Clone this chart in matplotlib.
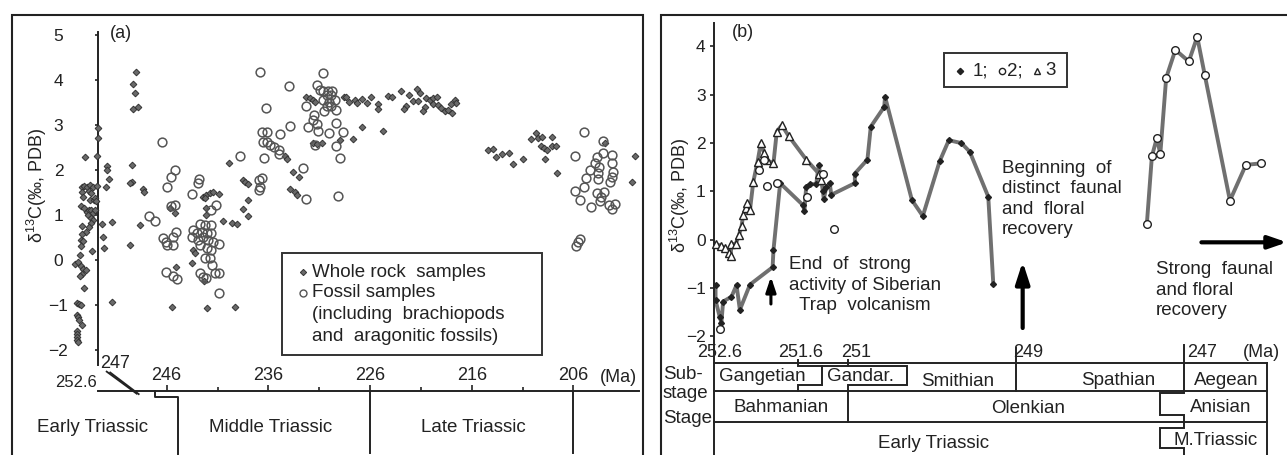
import matplotlib
matplotlib.use('Agg')
import matplotlib.pyplot as plt
from matplotlib.patches import Rectangle

plt.rcParams['font.family'] = ['Liberation Sans', 'DejaVu Sans']
plt.rcParams['mathtext.default'] = 'regular'

INK = '#222222'
GRAY = '#707070'

# ---------------- Panel (a) data: age (Ma) and d13C ----------------
rock_age = [254.0, 254.35, 254.1, 253.85, 253.55, 253.2, 254.3, 253.6, 253.4, 254.2, 253.5, 253.15,
            254.45, 254.1, 253.87, 253.6, 253.4, 253.2, 253.05, 253.7, 253.45, 253.25, 253.4, 254.35,
            253.6, 253.9, 254.35, 254.45, 254.2, 253.3, 254.45, 254.55, 255.0, 254.7, 254.45, 254.2,
            253.9, 254.35, 254.5, 254.1, 254.85, 254.6, 254.45, 254.85, 254.7, 254.6, 254.35, 254.85,
            254.8, 254.85, 254.8, 254.7,
            252.8, 252.8, 252.85, 252.9, 253.0, 252.95,
            251.9, 251.85, 251.65, 251.97, 252.4, 251.4, 252.25, 252.2, 251.4, 249.6,
            249.0, 249.3, 249.1, 249.35, 248.85, 249.45, 249.45, 249.6, 248.3, 248.2, 248.6,
            245.7, 245.2, 245.1, 245.5, 242.4, 242.1, 241.75, 241.4, 240.9, 242.2, 242.1, 242.1,
            243.4, 243.2, 243.5, 242.3, 242.05, 240.5, 239.6, 239.1, 239.3, 239.85, 238.5, 238.3,
            238.0, 238.0, 238.5, 238.0,
            234.4, 234.2, 233.55, 233.0, 233.9, 233.4, 233.2, 232.3, 231.9, 231.6, 231.4, 231.65,
            231.25, 230.7,
            229.0, 227.7, 226.8, 224.75, 228.6, 228.4, 228.05, 227.5, 227.3, 226.8, 226.3, 225.95,
            225.2, 225.2, 224.2, 223.8, 223.0, 222.15, 221.75, 221.4, 221.1, 221.25, 222.45, 222.65,
            220.5, 220.1, 219.8, 219.45, 220.6, 220.8, 219.8, 219.3, 219.05, 218.6, 218.3, 217.9,
            217.65, 217.55, 218.0,
            214.4, 213.9, 213.6, 213.05, 212.3, 211.9, 211.0, 210.2, 209.7, 209.45, 209.1, 208.15,
            209.2, 208.9, 208.6, 208.15, 207.7, 208.8, 207.65, 202.9, 199.95, 200.2]
rock_d13c = [2.28, 1.63, 1.65, 1.63, 1.67, 1.63, 1.52, 1.54, 1.49, 1.41, 1.33, 1.33,
             1.19, 1.15, 1.07, 1.11, 1.10, 1.05, 1.11, 0.99, 0.94, 0.88, 0.82, 0.75,
             0.73, 0.63, 0.58, 0.44, 0.43, 0.21, 0.30, 0.10, -0.08, -0.05, -0.13, -0.20,
             -0.23, -0.30, -0.35, -0.63, -0.96, -0.98, -1.00, -1.22, -1.27, -1.33, -1.44, -1.57,
             -1.64, -1.71, -1.78, -1.82,
             2.93, 2.72, 2.30, 1.65, 1.38, 1.30,
             2.09, 2.00, 1.81, 1.63, 0.81, 0.85, 0.52, 0.26, -0.93, 0.33,
             4.18, 3.92, 3.70, 3.35, 3.41, 2.10, 1.74, 1.70, 1.57, 1.50, 0.78,
             1.16, 1.05, -0.15, -1.04, 1.41, 1.44, 1.48, 1.50, 1.47, 1.38, 1.15, 1.00,
             0.22, 0.16, -0.06, -0.46, -1.07, 0.87, 0.83, 0.81, -1.04, 2.15, 1.78, 1.73,
             1.69, 1.33, 1.13, 0.98,
             2.30, 2.24, 1.96, 1.85, 1.57, 1.50, 1.44, 3.63, 3.59, 3.56, 3.52, 2.59,
             2.58, 2.61,
             2.67, 2.68, 2.95, 2.87, 3.62, 3.63, 3.50, 3.56, 3.48, 3.57, 3.48, 3.62,
             3.47, 3.35, 3.64, 3.62, 3.76, 3.67, 3.54, 3.79, 3.72, 3.54, 3.42, 3.35,
             3.59, 3.56, 3.59, 3.63, 3.39, 3.30, 3.47, 3.44, 3.37, 3.30, 3.33, 3.27,
             3.56, 3.48, 3.47,
             2.44, 2.46, 2.28, 2.36, 2.37, 2.13, 2.24, 2.68, 2.83, 2.70, 2.73, 2.73,
             2.53, 2.48, 2.44, 2.53, 2.53, 2.24, 1.94, 2.59, 2.30, 1.74]

fossil_age = [247.7, 247.15, 246.5, 246.0, 245.6, 245.2, 245.2, 245.6, 246.35, 246.1, 246.0, 245.35,
              245.1, 245.35, 246.1, 245.35, 245.0, 240.9,
              243.55, 242.8, 242.9, 241.15, 241.65, 242.7, 242.2, 241.6, 243.4, 243.05, 242.55, 242.05,
              241.6, 243.55, 242.9, 242.4, 241.9, 241.4, 240.9, 242.7, 242.05, 241.6, 242.25, 241.7,
              241.5, 241.25, 240.9, 242.7, 242.4, 242.1,
              238.8, 236.9, 236.9, 236.8, 233.95, 236.25, 236.6, 236.1, 234.85, 236.5, 236.1, 235.8,
              235.45, 235.0, 235.0, 233.9, 236.4, 236.65, 236.8, 232.6, 232.3,
              230.65, 231.2, 230.9, 230.6, 230.1, 229.7, 230.25, 229.8, 230.6, 230.0, 229.45, 230.25,
              229.8, 229.3, 232.3, 230.5, 231.5, 231.6, 232.1, 231.25, 231.1, 230.0, 229.35, 228.7,
              229.3, 229.0, 229.2, 231.4,
              205.0, 205.85, 203.1, 203.1, 202.25, 203.7, 202.25, 203.9, 204.4, 203.5, 203.55, 202.1,
              202.25, 202.4, 204.8, 203.55, 205.0, 205.85, 205.4, 203.7, 203.0, 203.3, 203.4, 204.3,
              202.5, 201.9, 202.25, 205.4, 205.7, 205.55]
fossil_d13c = [0.98, 0.87, 2.62, 1.63, 1.84, 2.01, 1.22, 1.20, 0.48, 0.41, 0.33, 0.52,
               0.63, 0.33, -0.26, -0.36, -0.43, -0.73,
               1.47, 1.79, 1.70, 1.22, 1.11, 0.81, 0.78, 0.78, 0.67, 0.59, 0.63, 0.59,
               0.61, 0.52, 0.44, 0.52, 0.44, 0.41, 0.36, 0.33, 0.26, 0.22, 0.04, 0.04,
               -0.11, -0.28, -0.28, -0.28, -0.37, -0.40,
               2.31, 1.78, 1.56, 4.17, 3.87, 3.38, 2.85, 2.85, 2.81, 2.63, 2.63, 2.56,
               2.52, 2.44, 2.36, 2.98, 2.26, 1.82, 1.63, 2.04, 1.35,
               4.16, 3.89, 3.78, 3.76, 3.76, 3.76, 3.67, 3.67, 3.56, 3.52, 3.56, 3.42,
               3.42, 3.33, 3.42, 3.32, 3.22, 3.10, 2.96, 3.02, 2.87, 2.83, 3.04, 2.85,
               2.53, 2.26, 1.42, 2.56,
               2.85, 2.31, 2.65, 2.38, 2.33, 2.28, 2.15, 2.15, 2.01, 2.07, 1.94, 1.96,
               1.85, 1.74, 1.82, 1.79, 1.62, 1.54, 1.33, 1.48, 1.50, 1.41, 1.30, 1.18,
               1.22, 1.24, 1.13, 0.46, 0.31, 0.41]

a_xticks = [246, 236, 226, 216, 206]
a_xminor = [241, 231, 221, 211]
a_yticks = [-2, -1, 0, 1, 2, 3, 4, 5]
a_periods = ['Early Triassic', 'Middle Triassic', 'Late Triassic']

# ---------------- Panel (b) data ----------------
s1_age = [252.58, 252.58, 252.53, 252.51, 252.49, 252.39, 252.33, 252.29, 252.17, 251.90, 251.89,
          251.81, 251.54, 251.52, 251.50, 251.45, 251.38, 251.35, 251.30, 251.29, 251.26, 251.22,
          251.20, 250.92, 250.92, 250.77, 250.73, 250.57, 250.56, 250.24, 250.11, 249.91, 249.80,
          249.65, 249.55, 249.33, 249.27]
s1_d13c = [-0.94, -1.25, -1.60, -1.72, -1.28, -1.18, -0.94, -1.45, -0.93, -0.57, -0.22,
           1.17, 0.72, 0.60, 1.10, 1.15, 1.15, 1.55, 1.00, 0.84, 1.09, 1.17,
           0.93, 1.17, 1.37, 1.66, 2.34, 2.75, 2.96, 0.82, 0.49, 1.62, 2.06,
           2.00, 1.82, 0.89, -0.92]

s2_scatter_age = [252.53, 252.06, 252.0, 251.97, 251.85, 251.49, 251.30, 251.17]
s2_scatter_d13c = [-1.85, 1.44, 1.65, 1.11, 1.18, 0.88, 1.36, 0.23]
s2_line_age = [247.44, 247.38, 247.32, 247.28, 247.21, 247.10, 246.94, 246.84, 246.75, 246.45,
               246.26, 246.08]
s2_line_d13c = [0.33, 1.73, 2.11, 1.77, 3.35, 3.93, 3.69, 4.20, 3.41, 0.81, 1.55, 1.58]

s3_age = [252.58, 252.52, 252.47, 252.42, 252.40, 252.39, 252.34, 252.30, 252.27, 252.25, 252.22,
          252.20, 252.17, 252.13, 252.08, 252.04, 252.00, 251.97, 251.89, 251.85, 251.79, 251.71,
          251.50, 251.35, 251.32]
s3_d13c = [-0.09, -0.12, -0.18, -0.28, -0.34, -0.09, -0.09, 0.10, 0.28, 0.51, 0.65,
           0.75, 0.61, 1.20, 1.61, 2.00, 1.80, 1.65, 1.58, 2.24, 2.37, 2.15,
           1.66, 1.37, 1.24]

b_yticks = [-2, -1, 0, 1, 2, 3, 4]
b_xtick_vals = [252.6, 251.6, 251, 249, 247]
b_xtick_labels = ['252.6', '251.6', '251', '249', '247']

W, H = 1287, 455
fig = plt.figure(figsize=(W / 100, H / 100), dpi=100)

# =============== Panel (a) ===============
axA = fig.add_axes([12 / W, 0, 631 / W, 440 / H])
axA.set_xlim(261.21, 199.16)
axA.set_ylim(-4.333, 5.444)
axA.patch.set_alpha(0)
axA.plot([0, 0, 1, 1], [0, 1, 1, 0], transform=axA.transAxes, color=INK, lw=1.5,
         clip_on=False, solid_joinstyle='miter')
axA.spines['right'].set_visible(False)
axA.spines['bottom'].set_visible(False)
axA.spines['left'].set_position(('data', 252.75))
axA.spines['left'].set_bounds(-2.33, 5.07)
axA.spines['top'].set_position(('data', -2.91))
axA.spines['top'].set_bounds(199.6, 252.75)
for s in ('left', 'top'):
    axA.spines[s].set_linewidth(1.4)
    axA.spines[s].set_color(INK)
axA.xaxis.set_ticks_position('top')
axA.set_xticks(a_xticks)
axA.set_xticks(a_xminor, minor=True)
axA.tick_params(axis='x', which='major', direction='out', length=4, width=1.2, pad=1,
                labelsize=13, colors=INK)
axA.tick_params(axis='x', which='minor', direction='out', length=3, width=1.2, colors=INK)
axA.set_yticks(a_yticks)
axA.tick_params(axis='y', direction='out', length=2, width=1.2, pad=26.5, labelsize=12.5,
                colors=INK)
for t in axA.get_yticklabels():
    t.set_horizontalalignment('center')

axA.plot(rock_age, rock_d13c, ls='none', marker='D', ms=3.4, mfc='#6a6a6a', mec='#333333',
         mew=0.7, zorder=3)
axA.plot(fossil_age, fossil_d13c, ls='none', marker='o', ms=6.3, mfc='none', mec='#555555',
         mew=1.1, zorder=3)

axA.text(258.8, 1.67, 'δ$^{13}$C(‰, PDB)', rotation=90, ha='center', va='center',
         fontsize=13, color=INK)
axA.text(250.5, 5.04, '(a)', ha='center', va='center', fontsize=13, color=INK)
axA.text(252.85, -2.73, '252.6', ha='right', va='center', fontsize=12, color=INK)
axA.text(252.55, -2.30, '247', ha='left', va='center', fontsize=13, color=INK)
axA.text(201.57, -2.62, '(Ma)', ha='center', va='center', fontsize=13, color=INK)
# axis break marks
axA.plot([251.9, 248.95], [-2.48, -2.97], color=INK, lw=1.3)
axA.plot([251.55, 248.75], [-2.50, -2.98], color=INK, lw=1.3)
# period boundaries
axA.plot([247.15, 247.15, 244.86, 244.86], [-2.91, -3.04, -3.04, -4.30], color=INK, lw=1.4)
axA.plot([226.0, 226.0], [-2.91, -4.28], color=INK, lw=1.4)
axA.plot([206.0, 206.0], [-2.91, -4.28], color=INK, lw=1.4)
for name, x in zip(a_periods, [253.3, 235.75, 215.8]):
    axA.text(x, -3.73, name, ha='center', va='center', fontsize=13.5, color=INK)

# legend (a)
axA.add_patch(Rectangle((209.09, -2.11), 25.57, 2.266, fill=False, ec='#333333', lw=1.4))
axA.plot([232.6], [-0.27], ls='none', marker='D', ms=3.2, mfc='#6a6a6a', mec='#333333', mew=0.7)
axA.plot([232.6], [-0.73], ls='none', marker='o', ms=5, mfc='none', mec='#555555', mew=1.0)
leg_lines = ['Whole rock  samples', 'Fossil samples', '(including  brachiopods',
             'and  aragonitic fossils)']
for txt, yv in zip(leg_lines, [-0.27, -0.73, -1.22, -1.71]):
    axA.text(231.75, yv, txt, ha='left', va='center', fontsize=13.5, color=INK)

# =============== Panel (b) ===============
axB = fig.add_axes([661 / W, 0, 626 / W, 440 / H])
axB.set_xlim(253.23, 245.77)
axB.set_ylim(-4.457, 4.652)
axB.patch.set_alpha(0)
axB.plot([0, 0, 1], [0, 1, 1], transform=axB.transAxes, color=INK, lw=1.5, clip_on=False,
         solid_joinstyle='miter')
for s in ('right', 'bottom', 'top'):
    axB.spines[s].set_visible(False)
axB.spines['left'].set_position(('data', 252.6))
axB.spines['left'].set_bounds(-4.457, 4.49)
axB.spines['left'].set_linewidth(1.4)
axB.spines['left'].set_color(INK)
axB.set_xticks([])
axB.set_yticks(b_yticks)
axB.tick_params(axis='y', direction='out', length=3, width=1.2, pad=3, labelsize=12.5, colors=INK)

axB.plot(s3_age, s3_d13c, color=GRAY, lw=2.8, zorder=2, solid_joinstyle='round')
axB.plot(s1_age, s1_d13c, color=GRAY, lw=2.8, zorder=2, solid_joinstyle='round')
axB.plot(s2_line_age, s2_line_d13c, color=GRAY, lw=2.8, zorder=2, solid_joinstyle='round')
axB.plot(s1_age, s1_d13c, ls='none', marker='D', ms=3, mfc=INK, mec=INK, zorder=4)
axB.plot(s3_age, s3_d13c, ls='none', marker='^', ms=6, mfc='white', mec=INK, mew=1.0, zorder=4)
axB.plot(s2_scatter_age, s2_scatter_d13c, ls='none', marker='o', ms=5.5, mfc='white', mec=INK,
         mew=1.0, zorder=4)
axB.plot(s2_line_age, s2_line_d13c, ls='none', marker='o', ms=5.5, mfc='white', mec=INK,
         mew=1.0, zorder=4)

axB.text(253.0, 0.92, 'δ$^{13}$C(‰, PDB)', rotation=90, ha='center', va='center',
         fontsize=13, color=INK)
axB.text(252.25, 4.28, '(b)', ha='center', va='center', fontsize=13, color=INK)

# legend (b)
axB.add_patch(Rectangle((248.39, 3.168), 1.47, 0.691, fill=False, ec='#333333', lw=1.4))
axB.plot([249.67], [3.5], ls='none', marker='D', ms=3.2, mfc=INK, mec=INK)
axB.plot([249.17], [3.5], ls='none', marker='o', ms=4.5, mfc='white', mec=INK, mew=1.0)
axB.plot([248.75], [3.49], ls='none', marker='^', ms=4.5, mfc='white', mec=INK, mew=1.0)
for txt, xv in zip(['1;', '2;', '3'], [249.52, 249.11, 248.65]):
    axB.text(xv, 3.5, txt, ha='left', va='center', fontsize=13.5, color=INK)

# annotations (b)
LS = 1.26
axB.text(251.71, -0.34, 'End  of  strong\nactivity of Siberian\n  Trap  volcanism', ha='left',
         va='top', fontsize=13.5, color=INK, linespacing=LS)
axB.text(249.17, 1.65, 'Beginning  of\ndistinct  faunal\nand  floral\nrecovery', ha='left',
         va='top', fontsize=13.5, color=INK, linespacing=LS)
axB.text(247.33, -0.45, 'Strong  faunal\nand floral\nrecovery', ha='left', va='top',
         fontsize=13.5, color=INK, linespacing=LS)
axB.annotate('', xy=(251.92, -0.766), xytext=(251.92, -1.331),
             arrowprops=dict(arrowstyle='-|>,head_length=0.9,head_width=0.3', lw=2.2,
                             color='black', shrinkA=0, shrinkB=0, mutation_scale=10))
axB.annotate('', xy=(248.92, -0.455), xytext=(248.92, -1.828),
             arrowprops=dict(arrowstyle='-|>,head_length=1.3,head_width=0.42', lw=3,
                             color='black', shrinkA=0, shrinkB=0, mutation_scale=10))
axB.annotate('', xy=(245.77, -0.054), xytext=(246.79, -0.054),
             arrowprops=dict(arrowstyle='-|>,head_length=1.1,head_width=0.38', lw=3,
                             color='black', shrinkA=0, shrinkB=0, mutation_scale=10))

# x tick labels (b)
b_label_x = [252.53, 251.57, 250.91, 248.85, 246.78]
for xv, lab in zip(b_label_x, b_xtick_labels):
    axB.text(xv, -2.33, lab, ha='center', va='center', fontsize=13, color=INK)
axB.text(246.07, -2.33, '(Ma)', ha='center', va='center', fontsize=13, color=INK)

# time-scale table (b)
TOP, R1, R2, BOT = -2.547, -3.126, -3.768, -4.457
LEFT, RIGHT = 252.6, 246.01
lk = dict(color=INK, lw=1.4, solid_joinstyle='miter')
for yv in (TOP, R1, R2):
    axB.plot([LEFT, RIGHT], [yv, yv], **lk)
axB.plot([RIGHT, RIGHT], [TOP, BOT], **lk)
axB.plot([251.6, 251.6, 251.31, 251.31, 251.6, 251.6],
         [-2.49, -2.615, -2.615, -3.008, -3.008, R1], **lk)
axB.plot([251.0, 251.0], [-2.49, -2.615], **lk)
axB.plot([251.31, 250.30, 250.30, 251.0, 251.0], [-2.615, -2.615, -3.008, -3.008, R2], **lk)
axB.plot([249.0, 249.0], [-2.24, R1], **lk)
axB.plot([247.0, 247.0, 247.0, 247.28, 247.28, 247.0, 247.0, 247.28, 247.28, 247.0, 247.0],
         [-2.18, R1, -3.18, -3.18, -3.63, -3.63, -3.905, -3.905, -4.319, -4.319, BOT], **lk)

tk = dict(ha='center', va='center', fontsize=13.5, color=INK)
axB.text(252.02, -2.83, 'Gangetian', **tk)
axB.text(250.85, -2.83, 'Gandar.', **tk)
axB.text(249.69, -2.93, 'Smithian', **tk)
axB.text(247.78, -2.91, 'Spathian', **tk)
axB.text(246.49, -2.91, 'Aegean', **tk)
axB.text(251.80, -3.47, 'Bahmanian', **tk)
axB.text(248.86, -3.50, 'Olenkian', **tk)
axB.text(246.56, -3.47, 'Anisian', **tk)
axB.text(249.98, -4.21, 'Early Triassic', **tk)
axB.text(246.62, -4.15, 'M.Triassic', **tk)
axB.text(253.21, -2.80, 'Sub-', ha='left', va='center', fontsize=13.5, color=INK)
axB.text(253.21, -3.19, 'stage', ha='left', va='center', fontsize=13.5, color=INK)
axB.text(253.21, -3.71, 'Stage', ha='left', va='center', fontsize=13.5, color=INK)

fig.savefig('out.png', dpi=100)
